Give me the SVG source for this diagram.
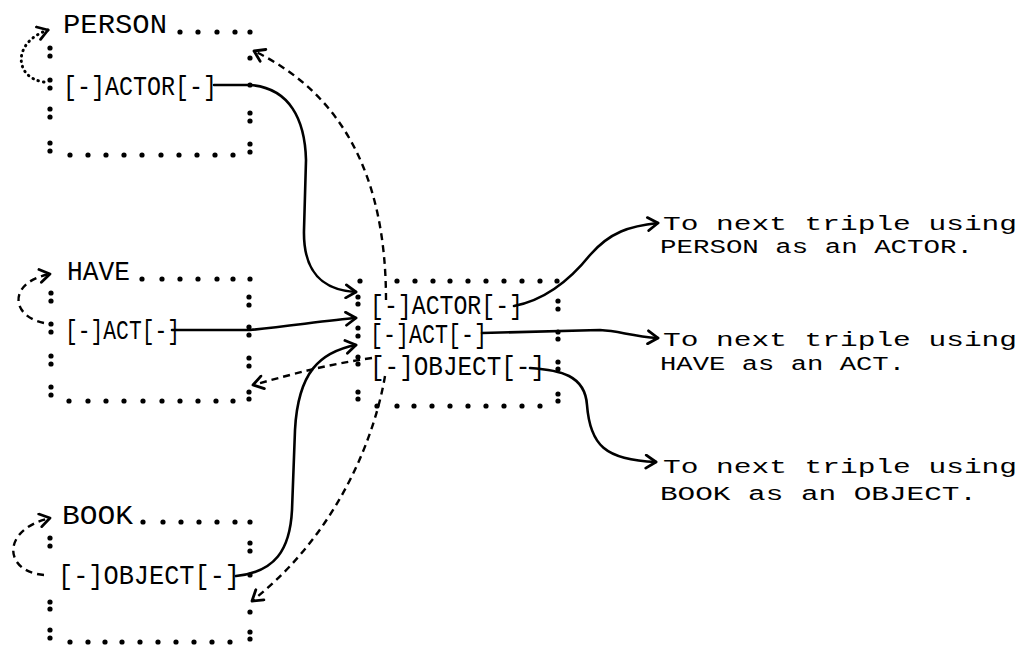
<svg xmlns="http://www.w3.org/2000/svg" width="1024" height="647" viewBox="0 0 1024 647">
  <style>
    .bg { fill: #ffffff; }
    .dot { fill: #000000; }
    .lbl { font-family: "Liberation Mono", "DejaVu Sans Mono", monospace; font-size: 27px; fill: #000000; }
    .note { font-family: "Liberation Mono", "DejaVu Sans Mono", monospace; font-size: 20px; fill: #000000; }
    .solid { fill: none; stroke: #000000; stroke-width: 2.6; stroke-linecap: round; }
    .dash { fill: none; stroke: #000000; stroke-width: 2.4; stroke-dasharray: 7 5; }
    .dotted { fill: none; stroke: #000000; stroke-width: 3; stroke-dasharray: 0.5 5; stroke-linecap: round; }
  </style>
  <defs>
    <marker id="head" viewBox="-12 -8 14 16" markerWidth="14" markerHeight="16" refX="0" refY="0" orient="auto" markerUnits="userSpaceOnUse">
      <path d="M-10,-6.5 L0,0 L-10,6.5" fill="none" stroke="#000000" stroke-width="2.8" stroke-linecap="round" stroke-linejoin="round"/>
    </marker>
  </defs>
  <rect class="bg" x="0" y="0" width="1024" height="647"/>

  <!-- PERSON frame -->
  <g id="person">
    <text class="lbl" x="63" y="33" textLength="104" lengthAdjust="spacingAndGlyphs">PERSON</text>
    <text class="lbl" x="63" y="95" textLength="154" lengthAdjust="spacingAndGlyphs">[-]ACTOR[-]</text>
    <g class="dot">
      <circle cx="180" cy="32" r="2.6"/><circle cx="198" cy="32" r="2.6"/><circle cx="217" cy="32" r="2.6"/><circle cx="235" cy="32" r="2.6"/><circle cx="250" cy="32" r="2.6"/>
      <circle cx="50" cy="48" r="2.6"/><circle cx="50" cy="56" r="2.6"/><circle cx="50" cy="80" r="2.6"/><circle cx="50" cy="88" r="2.6"/>
      <circle cx="50" cy="109" r="2.6"/><circle cx="50" cy="117" r="2.6"/><circle cx="50" cy="143" r="2.6"/><circle cx="50" cy="151" r="2.6"/>
      <circle cx="250" cy="58" r="2.6"/><circle cx="250" cy="85" r="2.6"/>
      <circle cx="250" cy="113" r="2.6"/><circle cx="250" cy="121" r="2.6"/><circle cx="250" cy="144" r="2.6"/><circle cx="250" cy="152" r="2.6"/>
      <circle cx="70" cy="155" r="2.6"/><circle cx="88" cy="155" r="2.6"/><circle cx="106" cy="155" r="2.6"/><circle cx="124" cy="155" r="2.6"/><circle cx="142" cy="155" r="2.6"/>
      <circle cx="161" cy="155" r="2.6"/><circle cx="179" cy="155" r="2.6"/><circle cx="197" cy="155" r="2.6"/><circle cx="215" cy="155" r="2.6"/><circle cx="233" cy="155" r="2.6"/>
    </g>
  </g>

  <!-- HAVE frame -->
  <g id="have">
    <text class="lbl" x="67" y="280" textLength="63" lengthAdjust="spacingAndGlyphs">HAVE</text>
    <text class="lbl" x="65" y="339" textLength="115" lengthAdjust="spacingAndGlyphs">[-]ACT[-]</text>
    <g class="dot">
      <circle cx="142" cy="279" r="2.6"/><circle cx="162" cy="279" r="2.6"/><circle cx="180" cy="279" r="2.6"/><circle cx="198" cy="279" r="2.6"/><circle cx="217" cy="279" r="2.6"/><circle cx="233" cy="279" r="2.6"/><circle cx="250" cy="279" r="2.6"/>
      <circle cx="51" cy="293" r="2.6"/><circle cx="51" cy="301" r="2.6"/><circle cx="51" cy="324" r="2.6"/><circle cx="51" cy="332" r="2.6"/>
      <circle cx="51" cy="356" r="2.6"/><circle cx="51" cy="364" r="2.6"/><circle cx="51" cy="387" r="2.6"/><circle cx="51" cy="395" r="2.6"/>
      <circle cx="249" cy="297" r="2.6"/><circle cx="249" cy="305" r="2.6"/><circle cx="249" cy="327" r="2.6"/><circle cx="249" cy="335" r="2.6"/>
      <circle cx="249" cy="358" r="2.6"/><circle cx="249" cy="366" r="2.6"/><circle cx="249" cy="392" r="2.6"/><circle cx="249" cy="399" r="2.6"/>
      <circle cx="69" cy="401" r="2.6"/><circle cx="88" cy="401" r="2.6"/><circle cx="106" cy="401" r="2.6"/><circle cx="124" cy="401" r="2.6"/><circle cx="143" cy="401" r="2.6"/>
      <circle cx="162" cy="401" r="2.6"/><circle cx="180" cy="401" r="2.6"/><circle cx="198" cy="401" r="2.6"/><circle cx="216" cy="401" r="2.6"/><circle cx="233" cy="401" r="2.6"/>
    </g>
  </g>

  <!-- BOOK frame -->
  <g id="book">
    <text class="lbl" x="62" y="524" textLength="71" lengthAdjust="spacingAndGlyphs">BOOK</text>
    <text class="lbl" x="58" y="584" textLength="182" lengthAdjust="spacingAndGlyphs">[-]OBJECT[-]</text>
    <g class="dot">
      <circle cx="143" cy="522" r="2.6"/><circle cx="163" cy="522" r="2.6"/><circle cx="181" cy="522" r="2.6"/><circle cx="199" cy="522" r="2.6"/><circle cx="217" cy="522" r="2.6"/><circle cx="235" cy="522" r="2.6"/><circle cx="250" cy="522" r="2.6"/>
      <circle cx="50" cy="538" r="2.6"/><circle cx="50" cy="546" r="2.6"/>
      <circle cx="50" cy="602" r="2.6"/><circle cx="50" cy="609" r="2.6"/><circle cx="50" cy="630" r="2.6"/><circle cx="50" cy="638" r="2.6"/>
      <circle cx="250" cy="543" r="2.6"/><circle cx="250" cy="551" r="2.6"/><circle cx="250" cy="575" r="2.6"/>
      <circle cx="250" cy="612" r="2.6"/><circle cx="250" cy="632" r="2.6"/><circle cx="250" cy="639" r="2.6"/>
      <circle cx="70" cy="642" r="2.6"/><circle cx="88" cy="642" r="2.6"/><circle cx="105" cy="642" r="2.6"/><circle cx="122" cy="642" r="2.6"/><circle cx="140" cy="642" r="2.6"/>
      <circle cx="158" cy="642" r="2.6"/><circle cx="176" cy="642" r="2.6"/><circle cx="194" cy="642" r="2.6"/><circle cx="212" cy="642" r="2.6"/><circle cx="230" cy="642" r="2.6"/>
    </g>
  </g>

  <!-- triple frame -->
  <g id="triple">
    <text class="lbl" x="370" y="314" textLength="153" lengthAdjust="spacingAndGlyphs">[-]ACTOR[-]</text>
    <text class="lbl" x="370" y="343" textLength="117" lengthAdjust="spacingAndGlyphs">[-]ACT[-]</text>
    <text class="lbl" x="370" y="375" textLength="175" lengthAdjust="spacingAndGlyphs">[-]OBJECT[-]</text>
    <g class="dot">
      <circle cx="360" cy="281" r="2.6"/><circle cx="397" cy="281" r="2.6"/><circle cx="415" cy="281" r="2.6"/><circle cx="433" cy="281" r="2.6"/><circle cx="450" cy="281" r="2.6"/>
      <circle cx="468" cy="281" r="2.6"/><circle cx="486" cy="281" r="2.6"/><circle cx="504" cy="281" r="2.6"/><circle cx="522" cy="281" r="2.6"/><circle cx="540" cy="281" r="2.6"/><circle cx="557" cy="281" r="2.6"/>
      <circle cx="358" cy="297" r="2.6"/><circle cx="358" cy="304" r="2.6"/><circle cx="358" cy="328" r="2.6"/><circle cx="358" cy="336" r="2.6"/>
      <circle cx="358" cy="357" r="2.6"/><circle cx="358" cy="364" r="2.6"/><circle cx="358" cy="392" r="2.6"/><circle cx="358" cy="399" r="2.6"/>
      <circle cx="558" cy="301" r="2.6"/><circle cx="558" cy="309" r="2.6"/><circle cx="558" cy="332" r="2.6"/><circle cx="558" cy="339" r="2.6"/>
      <circle cx="558" cy="362" r="2.6"/><circle cx="558" cy="369" r="2.6"/><circle cx="558" cy="394" r="2.6"/><circle cx="558" cy="401" r="2.6"/>
      <circle cx="377" cy="406" r="2.6"/><circle cx="397" cy="406" r="2.6"/><circle cx="414" cy="406" r="2.6"/><circle cx="432" cy="406" r="2.6"/><circle cx="450" cy="406" r="2.6"/>
      <circle cx="468" cy="406" r="2.6"/><circle cx="486" cy="406" r="2.6"/><circle cx="504" cy="406" r="2.6"/><circle cx="522" cy="406" r="2.6"/><circle cx="540" cy="406" r="2.6"/>
    </g>
  </g>

  <!-- notes on the right -->
  <g id="note-actor">
    <text class="note" x="663" y="230" textLength="354" lengthAdjust="spacingAndGlyphs">To next triple using</text>
    <text class="note" x="660" y="253" textLength="313" lengthAdjust="spacingAndGlyphs">PERSON as an ACTOR.</text>
  </g>
  <g id="note-act">
    <text class="note" x="663" y="346" textLength="354" lengthAdjust="spacingAndGlyphs">To next triple using</text>
    <text class="note" x="660" y="370" textLength="245" lengthAdjust="spacingAndGlyphs">HAVE as an ACT.</text>
  </g>
  <g id="note-object">
    <text class="note" x="663" y="473" textLength="354" lengthAdjust="spacingAndGlyphs">To next triple using</text>
    <text class="note" x="660" y="500" textLength="317" lengthAdjust="spacingAndGlyphs">BOOK as an OBJECT.</text>
  </g>

  <!-- connectors -->
  <g id="connectors">
    <!-- self references -->
    <path class="dotted" d="M44,82 C14,78 12,42 48,30" marker-end="url(#head)"/>
    <path class="dash" d="M44,323 C10,316 8,282 50,274" marker-end="url(#head)"/>
    <path class="dash" d="M44,575 C4,572 0,530 50,518" marker-end="url(#head)"/>

    <!-- frame slots into the triple -->
    <path class="solid" d="M214,85 L250,85 C290,88 305,120 306,160 L304,230 C303,272 322,290 356,292" marker-end="url(#head)"/>
    <path class="solid" d="M172,330 L250,330 C290,326 330,320 356,318" marker-end="url(#head)"/>
    <path class="solid" d="M236,576 C275,572 290,550 292,510 L295,430 C298,372 320,352 356,345" marker-end="url(#head)"/>

    <!-- triple back to frames -->
    <path class="dash" d="M386,300 C386,180 345,95 254,51" marker-end="url(#head)"/>
    <path class="dash" d="M372,358 C330,364 300,372 253,385" marker-end="url(#head)"/>
    <path class="dash" d="M385,376 C376,430 342,530 252,601" marker-end="url(#head)"/>

    <!-- triple slots to the next triples -->
    <path class="solid" d="M514,306 C545,300 570,280 590,255 C610,232 630,226 658,223" marker-end="url(#head)"/>
    <path class="solid" d="M482,333 L600,330 C620,331 630,336 658,338" marker-end="url(#head)"/>
    <path class="solid" d="M530,368 C560,370 585,375 587,405 C590,445 605,460 656,462" marker-end="url(#head)"/>
  </g>
</svg>
